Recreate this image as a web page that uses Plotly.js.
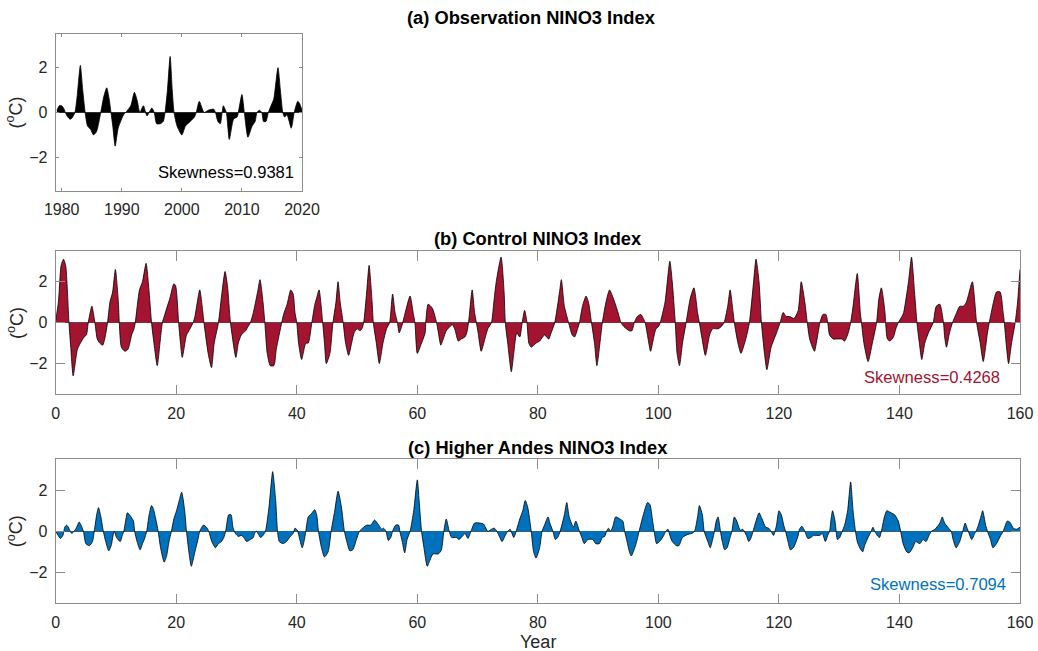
<!DOCTYPE html>
<html>
<head>
<meta charset="utf-8">
<script src="https://cdn.plot.ly/plotly-3.0.1.min.js"></script>
<style>html,body{margin:0;padding:0;background:#fff;}#chart{width:1038px;height:651px;}</style>
</head>
<body>
<div id="chart"></div>
<script>
// ---------- data ----------
const panelTitles = ['(a) Observation NINO3 Index', '(b) Control NINO3 Index', '(c) Higher Andes NINO3 Index'];
const skewness = [0.9381, 0.4268, 0.7094];
const yTickVals = [-2, 0, 2];
const obsTickVals = [1980, 1990, 2000, 2010, 2020];
const modelTickVals = [0, 20, 40, 60, 80, 100, 120, 140, 160];

const obsYear = [
  1979.2,1979.6,1980.0,1980.4,1980.6,1981.0,1981.4,1981.7,1982.2,1982.6,
  1983.1,1983.5,1983.9,1984.3,1984.8,1985.3,1985.8,1986.5,1987.0,1987.5,
  1987.9,1988.2,1988.5,1988.9,1989.4,1990.3,1990.8,1991.5,1992.1,1992.6,
  1993.0,1993.6,1994.2,1995.0,1995.4,1995.8,1996.4,1996.9,1997.2,1997.6,
  1998.05,1998.4,1998.7,1999.2,2000.0,2000.6,2001.4,2002.1,2002.4,2002.9,
  2003.7,2004.4,2005.3,2005.6,2006.0,2006.4,2006.7,2006.9,2007.4,2007.9,
  2008.6,2009.2,2009.4,2010.0,2010.4,2011.0,2011.7,2012.2,2012.5,2012.9,
  2013.3,2013.6,2014.0,2014.4,2015.0,2015.3,2016.0,2016.4,2016.8,2017.1,
  2017.5,2018.2,2018.4,2018.7,2019.3,2019.6,2020.0];
const obsNino3 = [
  0.1,0.3,0.3,0.15,0,-0.2,-0.3,-0.25,0,0.8,
  2.1,1.0,0,-0.6,-0.75,-1.0,-0.85,0,0.7,1.1,
  0.6,0,-0.6,-1.5,-0.7,-0.1,0.05,0.3,0.9,0.5,
  0,0.3,-0.15,0.2,0,-0.5,-0.5,-0.4,0,1.0,
  2.5,1.0,0,-0.6,-1.0,-0.6,-0.4,-0.2,0,0.5,
  0,0.1,0.15,0,-0.4,-0.5,0,0.3,0,-1.2,
  -0.3,-0.2,0,0.8,0,-1.1,-0.6,-0.4,0,0.1,
  0,-0.4,-0.4,0,0.4,0.6,2.0,1.0,0,-0.2,
  -0.1,-0.7,-0.5,0,0.5,0.4,0.1];

const ctrlYear = [
  0,0.45,0.9,1.3,1.65,2.2,2.5,2.9,3.6,4.1,
  4.7,5.1,5.4,6.0,6.5,6.9,7.3,7.8,8.2,8.6,
  9.0,9.45,9.9,10.4,10.55,10.9,11.5,12.0,12.6,13.0,
  13.2,13.9,14.4,15.0,15.5,15.9,16.3,16.85,17.3,17.7,
  18.1,18.95,19.6,19.9,20.4,20.7,21.0,21.7,22.1,22.8,
  23.1,23.9,24.3,24.6,25.3,25.85,26.3,27.0,27.6,28.1,
  28.5,29.0,29.9,30.3,30.8,31.5,31.9,32.3,32.8,33.5,
  33.9,34.4,34.7,35.1,35.6,36.2,36.6,37.5,37.8,38.4,
  39.0,39.4,39.7,40.0,40.3,40.8,41.5,41.9,42.5,43.0,
  43.3,43.7,44.3,44.6,44.9,45.5,46.0,46.5,46.85,47.2,
  47.7,48.1,48.6,49.1,49.5,50.0,50.5,50.8,51.1,51.6,
  52.0,52.5,52.7,53.2,53.7,54.3,54.9,55.4,55.9,56.3,
  56.7,57.0,57.4,58.0,58.8,59.3,59.6,60.0,60.7,61.3,
  61.4,61.8,62.5,63.2,63.5,63.9,64.3,64.8,65.4,65.8,
  66.2,66.8,67.3,67.9,68.2,68.5,69.1,69.5,69.8,70.1,
  70.6,71.2,71.7,72.3,72.7,73.1,73.9,74.4,74.6,75.0,
  75.6,76.0,76.5,77.0,77.4,77.8,78.2,78.5,78.9,79.7,
  80.3,81.1,81.8,82.2,82.8,83.6,83.9,84.4,85.1,85.7,
  86.1,86.6,86.9,87.4,88.0,88.4,88.9,89.4,89.8,90.3,
  90.7,91.3,91.9,92.5,93.2,93.8,94.3,95.2,95.6,96.0,
  96.5,97.1,97.5,97.8,98.3,98.7,99.1,99.6,100.0,100.3,
  101.1,101.9,102.3,102.8,103.1,103.5,104.0,104.6,105.3,105.9,
  106.5,106.8,107.2,107.8,108.5,109.0,109.9,110.4,110.9,111.5,
  111.9,112.4,112.6,113.2,113.7,114.5,115.1,115.8,116.2,116.7,
  117.1,117.6,118.0,118.7,119.6,120.2,120.7,121.2,121.8,122.5,
  123.2,123.7,124.3,124.7,125.1,125.7,125.9,126.5,126.8,127.3,
  127.8,128.1,128.4,129.0,129.5,130.4,130.9,131.5,131.9,132.3,
  133.0,133.5,133.7,134.1,134.8,135.5,136.2,136.6,137.0,137.6,
  137.7,138.0,138.4,139.0,139.4,139.8,140.4,140.7,141.5,142.0,
  142.5,142.9,143.3,143.7,144.2,144.8,145.6,146.1,146.7,147.3,
  147.5,147.8,148.3,148.8,149.5,150.0,150.6,151.1,152.1,152.5,
  152.8,153.4,153.9,154.6,154.9,155.6,156.1,156.7,157.2,157.4,
  157.7,158.1,158.6,159.2,159.6,160.0];
const ctrlNino3 = [
  0.1,1.0,2.8,3.1,2.8,0,-1.2,-2.6,-1.3,-1.0,
  -0.7,-0.6,0,0.8,0,-0.8,-1.0,-1.1,-0.7,0,
  1.0,1.5,2.6,1.0,0,-1.2,-1.4,-1.3,-0.6,-0.3,
  0,1.6,2.0,2.9,1.5,0,-1.0,-2.1,-1.0,0,
  0.4,1.2,1.9,1.8,0,-1.0,-1.7,-0.6,-0.4,0,
  0.3,1.6,0.8,0,-1.5,-2.2,-1.0,0,1.5,2.5,
  1.8,0,-1.7,-1.0,-0.6,-0.4,-0.2,0,0.5,1.5,
  2.1,1.0,0,-1.5,-2.1,-2.1,-1.3,0,0.4,0.9,
  1.6,1.4,0.5,0,-1.0,-1.8,-1.0,-1.0,0,0.9,
  1.2,1.6,0,-1.0,-2.0,-1.5,0,1.0,2.0,1.0,
  0,-1.0,-1.6,-1.0,-0.5,-0.3,-0.4,-0.3,0,1.5,
  2.8,1.0,0,-1.0,-2.0,-1.0,-0.3,0,1.4,0.5,
  0,-0.5,-0.2,0.5,1.3,0.5,0,-1.5,-1.0,-0.5,
  0,0.9,0.7,0,-0.5,-1.1,-0.8,-0.4,-0.2,-0.1,
  -0.3,-0.9,-0.8,-0.7,-0.5,0,1.6,0.5,0,-0.5,
  -1.4,-0.8,-0.3,0,1.0,2.0,3.2,1.5,0,-1.0,
  -2.4,-1.5,-0.5,-0.7,0,0.6,0,-1.0,-1.2,-1.0,
  -0.9,-0.6,-0.8,-0.5,0,1.5,2.1,0.8,0,-0.6,
  -0.7,-0.3,0,0.8,1.3,1.0,0,-1.0,-2.1,-1.0,
  0,1.0,1.6,1.2,0.6,0,-0.2,-0.4,-0.4,0,
  0.3,0.4,0.2,0,-0.8,-1.4,-0.9,-0.3,-0.2,0,
  1.0,3.0,2.0,0,-1.5,-2.1,-1.0,0,1.2,1.7,
  0.5,0,-0.7,-1.6,-0.6,-0.3,-0.3,-0.2,0,0.8,
  1.6,0.5,0,-1.0,-1.5,-0.8,0,2.0,3.1,2.0,
  0,-1.5,-2.3,-1.2,-0.5,0,0.5,0.3,0.3,0.2,
  0.6,2.0,1.0,0,-0.8,-1.3,-1.4,-0.5,0,0.4,
  0.4,0,-0.6,-0.8,-0.8,-0.8,-0.9,-0.5,0,0.8,
  2.4,0.5,0,-1.0,-1.9,-1.0,0,1.2,1.7,0.5,
  0,-0.8,-0.9,-0.7,-0.3,0,0.3,0.5,2.0,3.2,
  1.5,0,-1.0,-1.8,-1.0,-0.5,0,0.8,0.9,0,
  -0.7,-1.2,-0.5,0,0.5,0.8,0.8,1.0,2.0,1.0,
  0,-1.0,-1.9,-0.5,0,1.0,1.5,1.5,0.5,0,
  -1.0,-2.0,-1.0,0,1.0,2.6];

const andesYear = [
  0,0.4,0.8,1.2,1.5,1.8,2.1,2.4,2.65,2.9,
  3.4,3.9,4.2,4.6,5.0,5.6,6.1,6.4,6.8,7.1,
  7.5,7.9,8.3,8.8,9.2,9.7,10.1,10.7,11.05,11.3,
  11.6,11.9,12.5,12.9,13.1,13.5,14.0,14.4,14.7,15.1,
  15.5,15.9,16.2,16.6,17.0,17.4,18.0,18.4,18.8,19.2,
  19.6,20.05,20.5,20.9,21.4,21.7,22.1,22.5,23.1,23.6,
  23.9,24.5,25.0,25.4,25.9,26.5,27.0,27.5,27.9,28.2,
  28.7,29.1,29.4,29.8,30.3,30.8,31.2,31.7,32.3,32.8,
  33.0,33.3,34.0,34.4,34.8,35.4,36.0,36.5,36.8,37.1,
  37.7,38.3,38.8,39.4,39.7,40.1,40.5,40.9,41.2,41.5,
  41.9,42.4,42.98,43.3,43.6,44.1,44.6,45.2,45.7,46.3,
  46.85,47.4,47.9,48.3,48.8,49.3,49.9,50.4,51.1,51.6,
  52.3,52.9,53.6,54.1,54.4,54.8,55.2,55.6,55.9,56.4,
  56.9,57.1,57.5,57.9,58.3,58.8,59.4,60.0,60.3,60.7,
  61.1,61.65,62.1,62.6,63.5,64.0,64.4,64.8,65.3,65.7,
  66.5,66.9,67.6,67.9,68.4,68.9,69.5,70.4,71.0,71.7,
  72.3,72.8,73.2,73.7,74.05,74.6,75.0,75.4,76.0,76.4,
  77.0,77.5,77.9,78.3,78.9,79.3,79.7,80.3,80.7,81.1,
  81.7,82.0,82.5,82.9,83.3,83.7,84.4,84.8,85.2,85.9,
  86.3,86.9,87.3,87.7,88.3,89.1,89.6,90.2,90.7,91.1,
  91.4,91.7,92.1,92.5,92.9,93.6,94.1,94.4,94.8,95.2,
  95.5,96.3,96.8,97.5,98.2,98.6,99.0,99.3,99.7,100.2,
  100.9,101.2,101.6,101.9,102.3,103.0,103.4,104.0,104.9,105.6,
  106.0,106.5,106.8,107.3,107.6,108.2,108.6,109.0,109.3,109.6,
  109.9,110.3,110.6,111.0,111.4,111.9,112.2,112.6,113.0,113.6,
  114.0,114.6,115.0,115.4,115.7,116.2,116.7,117.2,117.8,118.3,
  118.7,119.1,119.6,120.0,120.4,120.8,121.1,121.5,121.9,122.4,
  123.2,123.4,123.8,124.3,124.8,125.3,125.7,126.2,126.8,127.2,
  127.7,128.1,128.4,128.7,128.9,129.3,129.5,129.7,130.1,130.5,
  130.9,131.4,131.9,132.3,132.7,133.0,133.4,133.9,134.2,134.8,
  135.3,135.6,135.9,136.3,136.7,137.0,137.5,137.9,138.6,139.2,
  139.8,140.2,140.6,141.2,141.6,142.2,142.7,143.4,143.9,144.4,
  144.9,145.3,145.9,146.7,147.1,147.5,148.3,148.6,148.9,149.4,
  150.0,150.5,150.9,151.3,152.0,152.5,152.7,153.1,153.5,153.8,
  154.3,154.6,155.1,155.5,156.1,156.8,157.2,157.9,158.3,158.9,
  159.4,160.0];
const andesNino3 = [
  0,-0.2,-0.35,-0.2,0.2,0.3,0.2,0,-0.1,-0.05,
  0.15,0.45,0.3,0,-0.6,-0.7,-0.5,0,0.8,1.15,
  0.7,0,-0.5,-0.95,-0.7,0,-0.3,-0.5,-0.2,0,
  0.5,0.9,0.7,0.5,0,-0.5,-0.9,-0.6,-0.4,0,
  0.8,1.25,1.1,0.6,0,-0.8,-1.5,-1.2,-0.5,0,
  0.6,1.0,1.5,1.9,1.0,0,-1.0,-1.7,-1.0,-0.4,
  0,0.3,0.2,0,-0.5,-0.8,-0.6,-0.5,-0.3,0,
  0.8,0.8,0.2,-0.1,-0.25,-0.2,-0.3,-0.5,-0.4,-0.3,
  -0.1,0,-0.3,-0.2,0,1.2,2.9,1.5,0,-0.5,
  -0.6,-0.5,-0.3,-0.1,0.15,0.05,-0.4,-0.8,-0.5,0,
  0.7,0.85,1.05,0.8,0,-0.8,-1.25,-1.0,0,1.0,
  1.95,1.2,0,-0.5,-0.95,-0.9,-0.4,0,0.2,0.3,
  0.3,0.55,0.3,0.1,0.15,0,-0.45,-0.3,0,0.3,
  0.3,0,-0.5,-1.05,-0.4,0,1.0,2.5,1.5,0,
  -0.8,-1.7,-1.4,-1.1,-1.1,-0.9,0,0.6,0,-0.3,
  -0.3,-0.4,-0.2,-0.1,-0.35,0,0.4,0.4,0.35,0,
  0.1,0.15,0,-0.3,-0.5,-0.2,0,0.1,-0.3,0,
  0.6,1.0,1.5,1.2,0,-1.0,-1.3,-0.8,0,0.3,
  0.7,0.4,0,-0.4,-0.3,0,0.8,1.4,0.7,0.2,
  0.5,0,-0.3,-0.6,-0.4,-0.4,-0.6,-0.6,-0.3,-0.25,
  0,0.15,0,0.3,0.7,0.6,0.5,0,-0.5,-1.0,
  -1.2,-0.6,0,0.8,1.4,1.3,0.6,0,-0.6,-0.5,
  -0.2,0,0.1,-0.2,-0.5,-0.7,-0.7,-0.3,-0.15,-0.1,
  0,0.7,1.25,0.8,0,-0.5,-0.8,-0.4,0,0.5,
  0.7,0,-0.5,-0.9,-0.8,-0.3,0,0.7,0.5,0.05,
  0.1,-0.2,-0.5,-0.3,0,0.5,0.9,0.6,0.2,0.15,
  0,-0.2,0.3,1.0,0.8,0.3,0,-0.5,-0.9,-0.8,
  -0.2,0.1,0.25,0,-0.35,-0.3,-0.2,-0.2,-0.2,-0.1,
  -0.5,-0.2,0,0.7,1.0,0.5,0,-0.4,-0.3,0,
  0.3,1.0,2.4,1.0,0,-0.5,-0.8,-1.0,-0.7,-0.3,
  0,0.2,0,-0.2,-0.3,0,0.7,1.0,0.9,0.8,
  0.5,0,-0.6,-1.0,-1.05,-0.8,-0.5,-0.6,-0.4,-0.5,
  -0.2,0,0.1,0.4,0.7,0.4,0.1,0,-0.4,-0.8,
  -0.5,0,0.4,0.1,-0.4,-0.1,0,0.3,0.7,1.0,
  0.3,0,-0.4,-0.8,-0.6,-0.2,0,0.5,0.45,0.15,
  0.1,0.2];

// ---------- styling ----------
const W = 1038, H = 651;
const FONT = 'Liberation Sans, Arial, Helvetica, sans-serif';
const fillColors = ['#000000', '#A2142F', '#0072BD'];
const axisGrey = '#8c8c8c';
const px = v => v / W;
const py = v => 1 - v / H;

function mkTrace(x, y, i) {
  const ax = i === 0 ? '' : String(i + 1);
  return {
    x: x, y: y, xaxis: 'x' + ax, yaxis: 'y' + ax,
    type: 'scatter', mode: 'lines', fill: 'tozeroy',
    fillcolor: fillColors[i],
    line: {color: '#000', width: 0.8, shape: 'spline', smoothing: 0.6},
    hoverinfo: 'skip', showlegend: false
  };
}

function xAxis(domain, range, tickvals, ticklen) {
  return {
    domain: domain, range: range, tickvals: tickvals, ticks: 'inside', ticklen: ticklen,
    tickcolor: axisGrey, tickwidth: 1, showline: true, linecolor: axisGrey, linewidth: 1,
    mirror: 'ticks', showgrid: false, zeroline: false, fixedrange: true,
    tickfont: {family: FONT, size: 16, color: '#262626'}, ticklabelstandoff: 4
  };
}
function yAxis(domain, ticklen, anchor) {
  return {
    domain: domain, range: [-3.5, 3.5], tickvals: yTickVals, ticks: 'inside', ticklen: ticklen,
    tickcolor: axisGrey, tickwidth: 1, showline: true, linecolor: axisGrey, linewidth: 1,
    mirror: 'ticks', showgrid: false, zeroline: true, zerolinecolor: '#555', zerolinewidth: 1,
    fixedrange: true, anchor: anchor,
    tickfont: {family: FONT, size: 16, color: '#262626'}, ticklabelstandoff: 4
  };
}

const xDomA = [px(55.7), px(302)];
const xDomBC = [px(55.7), px(1020)];
const yDomA = [py(191), py(34)];
const yDomB = [py(394.3), py(251)];
const yDomC = [py(603.3), py(459.3)];

const data = [
  mkTrace(obsYear, obsNino3, 0),
  mkTrace(ctrlYear, ctrlNino3, 1),
  mkTrace(andesYear, andesNino3, 2)
];

const titleFont = {family: FONT, size: 18.3, color: '#000'};
const annots = [
  {text: '<b>' + panelTitles[0] + '</b>', x: px(531), y: py(18)},
  {text: '<b>' + panelTitles[1] + '</b>', x: px(538), y: py(238)},
  {text: '<b>' + panelTitles[2] + '</b>', x: px(538), y: py(447)}
].map(a => Object.assign(a, {xref: 'paper', yref: 'paper', xanchor: 'center', yanchor: 'middle', showarrow: false, font: titleFont}));

const yTitlePos = [112.5, 323, 531.3];
yTitlePos.forEach(v => annots.push({
  text: '(<sup>o</sup>C)', x: px(15), y: py(v), xref: 'paper', yref: 'paper',
  xanchor: 'center', yanchor: 'middle', textangle: -90, showarrow: false,
  font: {family: FONT, size: 18, color: '#262626'}
}));

const skewPos = [[296, 172], [1002, 377], [1008, 584]];
skewPos.forEach((p, i) => annots.push({
  text: 'Skewness=' + skewness[i].toFixed(4), x: px(p[0]), y: py(p[1]),
  xref: 'paper', yref: 'paper', xanchor: 'right', yanchor: 'middle', showarrow: false,
  font: {family: FONT, size: 16.6, color: i === 0 ? '#000' : fillColors[i]}
}));

annots.push({text: 'Year', x: px(538), y: py(641.7), xref: 'paper', yref: 'paper',
  xanchor: 'center', yanchor: 'middle', showarrow: false,
  font: {family: FONT, size: 18, color: '#262626'}});

const layout = {
  width: W, height: H,
  margin: {l: 0, r: 0, t: 0, b: 0},
  paper_bgcolor: '#fff', plot_bgcolor: '#fff',
  showlegend: false,
  xaxis: Object.assign(xAxis(xDomA, [1979, 2020], obsTickVals, 3), {anchor: 'y'}),
  yaxis: yAxis(yDomA, 3, 'x'),
  xaxis2: Object.assign(xAxis(xDomBC, [0, 160], modelTickVals, 9.5), {anchor: 'y2'}),
  yaxis2: yAxis(yDomB, 9.5, 'x2'),
  xaxis3: Object.assign(xAxis(xDomBC, [0, 160], modelTickVals, 9.5), {anchor: 'y3'}),
  yaxis3: yAxis(yDomC, 9.5, 'x3'),
  annotations: annots
};

Plotly.newPlot('chart', data, layout, {staticPlot: true, displayModeBar: false});
</script>
</body>
</html>
